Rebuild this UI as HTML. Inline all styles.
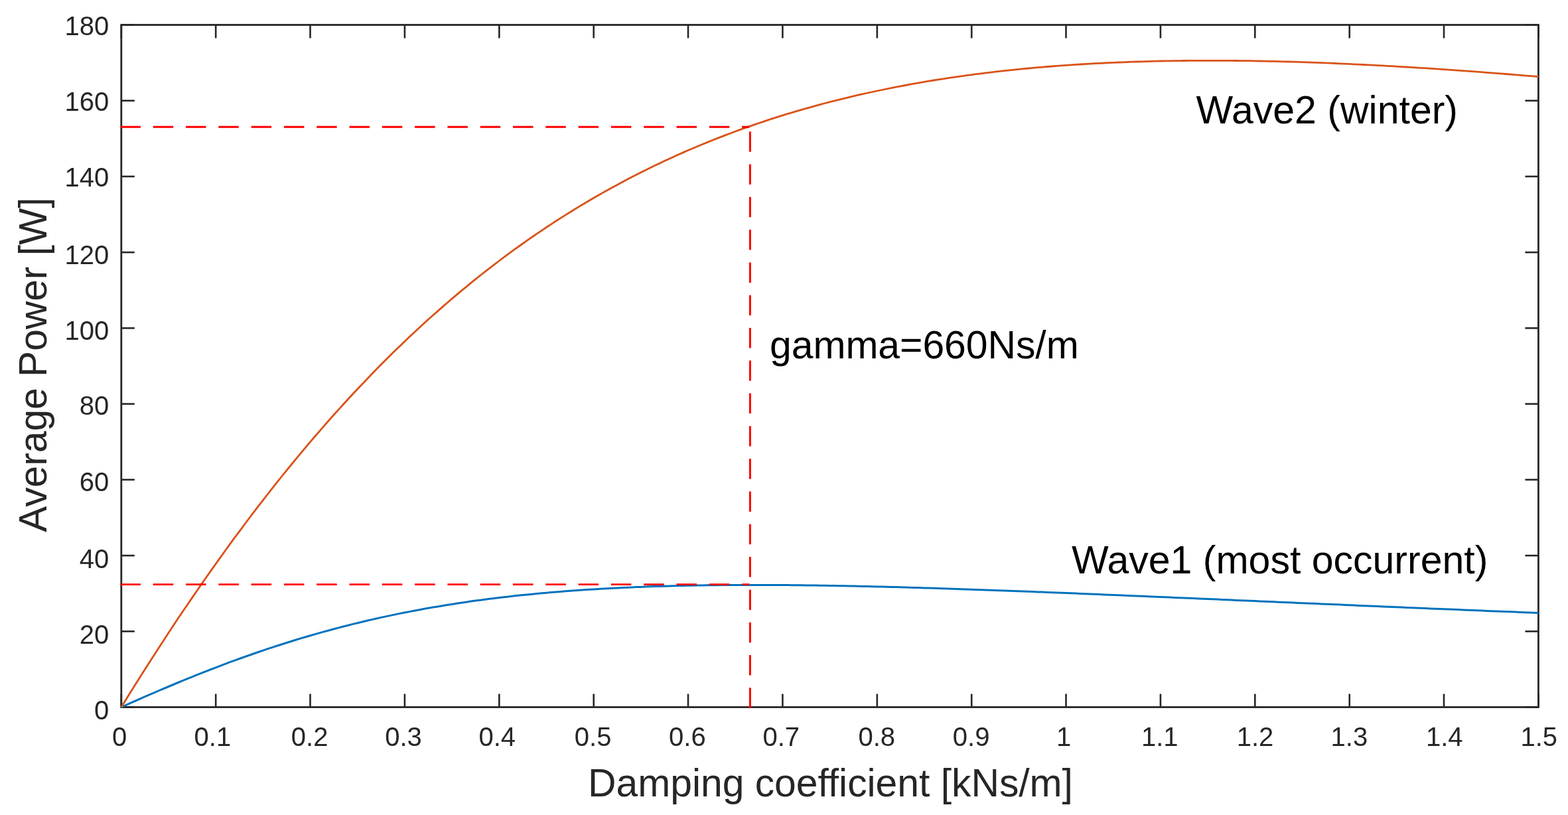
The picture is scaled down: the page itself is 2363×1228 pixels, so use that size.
<!DOCTYPE html><html><head><meta charset="utf-8"><style>html,body{margin:0;padding:0;background:#fff;}svg{display:block;}text{font-family:"Liberation Sans",Arial,sans-serif;}</style></head><body>
<svg width="2363" height="1228" viewBox="0 0 2363 1228">
<rect width="2363" height="1228" fill="#fff"/>
<g stroke="#262626" stroke-width="2.6" fill="none">
<line x1="182.8" y1="1065.5" x2="182.8" y2="1045.5"/>
<line x1="182.8" y1="37.5" x2="182.8" y2="57.5"/>
<line x1="325.2" y1="1065.5" x2="325.2" y2="1045.5"/>
<line x1="325.2" y1="37.5" x2="325.2" y2="57.5"/>
<line x1="467.5" y1="1065.5" x2="467.5" y2="1045.5"/>
<line x1="467.5" y1="37.5" x2="467.5" y2="57.5"/>
<line x1="609.9" y1="1065.5" x2="609.9" y2="1045.5"/>
<line x1="609.9" y1="37.5" x2="609.9" y2="57.5"/>
<line x1="752.3" y1="1065.5" x2="752.3" y2="1045.5"/>
<line x1="752.3" y1="37.5" x2="752.3" y2="57.5"/>
<line x1="894.7" y1="1065.5" x2="894.7" y2="1045.5"/>
<line x1="894.7" y1="37.5" x2="894.7" y2="57.5"/>
<line x1="1037.0" y1="1065.5" x2="1037.0" y2="1045.5"/>
<line x1="1037.0" y1="37.5" x2="1037.0" y2="57.5"/>
<line x1="1179.4" y1="1065.5" x2="1179.4" y2="1045.5"/>
<line x1="1179.4" y1="37.5" x2="1179.4" y2="57.5"/>
<line x1="1321.8" y1="1065.5" x2="1321.8" y2="1045.5"/>
<line x1="1321.8" y1="37.5" x2="1321.8" y2="57.5"/>
<line x1="1464.2" y1="1065.5" x2="1464.2" y2="1045.5"/>
<line x1="1464.2" y1="37.5" x2="1464.2" y2="57.5"/>
<line x1="1606.5" y1="1065.5" x2="1606.5" y2="1045.5"/>
<line x1="1606.5" y1="37.5" x2="1606.5" y2="57.5"/>
<line x1="1748.9" y1="1065.5" x2="1748.9" y2="1045.5"/>
<line x1="1748.9" y1="37.5" x2="1748.9" y2="57.5"/>
<line x1="1891.3" y1="1065.5" x2="1891.3" y2="1045.5"/>
<line x1="1891.3" y1="37.5" x2="1891.3" y2="57.5"/>
<line x1="2033.7" y1="1065.5" x2="2033.7" y2="1045.5"/>
<line x1="2033.7" y1="37.5" x2="2033.7" y2="57.5"/>
<line x1="2176.0" y1="1065.5" x2="2176.0" y2="1045.5"/>
<line x1="2176.0" y1="37.5" x2="2176.0" y2="57.5"/>
<line x1="2318.4" y1="1065.5" x2="2318.4" y2="1045.5"/>
<line x1="2318.4" y1="37.5" x2="2318.4" y2="57.5"/>
<line x1="182.8" y1="1065.5" x2="202.8" y2="1065.5"/>
<line x1="2318.4" y1="1065.5" x2="2298.4" y2="1065.5"/>
<line x1="182.8" y1="951.3" x2="202.8" y2="951.3"/>
<line x1="2318.4" y1="951.3" x2="2298.4" y2="951.3"/>
<line x1="182.8" y1="837.1" x2="202.8" y2="837.1"/>
<line x1="2318.4" y1="837.1" x2="2298.4" y2="837.1"/>
<line x1="182.8" y1="722.8" x2="202.8" y2="722.8"/>
<line x1="2318.4" y1="722.8" x2="2298.4" y2="722.8"/>
<line x1="182.8" y1="608.6" x2="202.8" y2="608.6"/>
<line x1="2318.4" y1="608.6" x2="2298.4" y2="608.6"/>
<line x1="182.8" y1="494.4" x2="202.8" y2="494.4"/>
<line x1="2318.4" y1="494.4" x2="2298.4" y2="494.4"/>
<line x1="182.8" y1="380.2" x2="202.8" y2="380.2"/>
<line x1="2318.4" y1="380.2" x2="2298.4" y2="380.2"/>
<line x1="182.8" y1="265.9" x2="202.8" y2="265.9"/>
<line x1="2318.4" y1="265.9" x2="2298.4" y2="265.9"/>
<line x1="182.8" y1="151.7" x2="202.8" y2="151.7"/>
<line x1="2318.4" y1="151.7" x2="2298.4" y2="151.7"/>
<line x1="182.8" y1="37.5" x2="202.8" y2="37.5"/>
<line x1="2318.4" y1="37.5" x2="2298.4" y2="37.5"/>
<rect x="182.8" y="37.5" width="2135.6" height="1028.0" stroke-width="2.8"/>
</g>
<polyline fill="none" stroke="#0072BD" stroke-width="3" stroke-linejoin="round" points="182.8,1065.5 189.9,1062.3 197.0,1059.1 204.2,1056.0 211.3,1052.9 218.4,1049.7 225.5,1046.6 232.6,1043.6 239.7,1040.5 246.9,1037.5 254.0,1034.5 261.1,1031.5 268.2,1028.5 275.3,1025.6 282.5,1022.7 289.6,1019.8 296.7,1016.9 303.8,1014.1 310.9,1011.3 318.1,1008.5 325.2,1005.8 332.3,1003.1 339.4,1000.4 346.5,997.7 353.6,995.1 360.8,992.5 367.9,990.0 375.0,987.5 382.1,985.0 389.2,982.5 396.4,980.1 403.5,977.7 410.6,975.3 417.7,973.0 424.8,970.7 432.0,968.5 439.1,966.2 446.2,964.0 453.3,961.9 460.4,959.8 467.5,957.7 474.7,955.6 481.8,953.6 488.9,951.6 496.0,949.7 503.1,947.8 510.3,945.9 517.4,944.0 524.5,942.2 531.6,940.4 538.7,938.7 545.9,937.0 553.0,935.3 560.1,933.6 567.2,932.0 574.3,930.4 581.4,928.9 588.6,927.4 595.7,925.9 602.8,924.4 609.9,923.0 617.0,921.6 624.2,920.2 631.3,918.9 638.4,917.6 645.5,916.3 652.6,915.1 659.8,913.9 666.9,912.7 674.0,911.5 681.1,910.4 688.2,909.3 695.3,908.2 702.5,907.2 709.6,906.1 716.7,905.1 723.8,904.2 730.9,903.2 738.1,902.3 745.2,901.4 752.3,900.6 759.4,899.7 766.5,898.9 773.6,898.1 780.8,897.3 787.9,896.6 795.0,895.9 802.1,895.2 809.2,894.5 816.4,893.8 823.5,893.2 830.6,892.6 837.7,892.0 844.8,891.4 852.0,890.8 859.1,890.3 866.2,889.8 873.3,889.3 880.4,888.8 887.5,888.3 894.7,887.9 901.8,887.5 908.9,887.1 916.0,886.7 923.1,886.3 930.3,885.9 937.4,885.6 944.5,885.3 951.6,884.9 958.7,884.6 965.9,884.4 973.0,884.1 980.1,883.8 987.2,883.6 994.3,883.4 1001.4,883.2 1008.6,883.0 1015.7,882.8 1022.8,882.6 1029.9,882.5 1037.0,882.3 1044.2,882.2 1051.3,882.0 1058.4,881.9 1065.5,881.8 1072.6,881.7 1079.8,881.7 1086.9,881.6 1094.0,881.5 1101.1,881.5 1108.2,881.4 1115.3,881.4 1122.5,881.4 1129.6,881.4 1136.7,881.4 1143.8,881.4 1150.9,881.4 1158.1,881.4 1165.2,881.5 1172.3,881.5 1179.4,881.5 1186.5,881.6 1193.7,881.7 1200.8,881.7 1207.9,881.8 1215.0,881.9 1222.1,882.0 1229.2,882.1 1236.4,882.2 1243.5,882.3 1250.6,882.4 1257.7,882.5 1264.8,882.7 1272.0,882.8 1279.1,882.9 1286.2,883.1 1293.3,883.2 1300.4,883.4 1307.5,883.6 1314.7,883.7 1321.8,883.9 1328.9,884.1 1336.0,884.3 1343.1,884.4 1350.3,884.6 1357.4,884.8 1364.5,885.0 1371.6,885.2 1378.7,885.4 1385.9,885.6 1393.0,885.9 1400.1,886.1 1407.2,886.3 1414.3,886.5 1421.4,886.7 1428.6,887.0 1435.7,887.2 1442.8,887.4 1449.9,887.7 1457.0,887.9 1464.2,888.2 1471.3,888.4 1478.4,888.7 1485.5,888.9 1492.6,889.2 1499.8,889.4 1506.9,889.7 1514.0,890.0 1521.1,890.2 1528.2,890.5 1535.3,890.8 1542.5,891.0 1549.6,891.3 1556.7,891.6 1563.8,891.9 1570.9,892.1 1578.1,892.4 1585.2,892.7 1592.3,893.0 1599.4,893.3 1606.5,893.5 1613.7,893.8 1620.8,894.1 1627.9,894.4 1635.0,894.7 1642.1,895.0 1649.2,895.3 1656.4,895.6 1663.5,895.9 1670.6,896.2 1677.7,896.5 1684.8,896.8 1692.0,897.1 1699.1,897.4 1706.2,897.7 1713.3,898.0 1720.4,898.3 1727.6,898.6 1734.7,898.9 1741.8,899.2 1748.9,899.5 1756.0,899.8 1763.1,900.1 1770.3,900.4 1777.4,900.7 1784.5,901.0 1791.6,901.3 1798.7,901.6 1805.9,901.9 1813.0,902.2 1820.1,902.5 1827.2,902.8 1834.3,903.1 1841.4,903.5 1848.6,903.8 1855.7,904.1 1862.8,904.4 1869.9,904.7 1877.0,905.0 1884.2,905.3 1891.3,905.6 1898.4,905.9 1905.5,906.2 1912.6,906.5 1919.8,906.8 1926.9,907.2 1934.0,907.5 1941.1,907.8 1948.2,908.1 1955.3,908.4 1962.5,908.7 1969.6,909.0 1976.7,909.3 1983.8,909.6 1990.9,909.9 1998.1,910.2 2005.2,910.5 2012.3,910.8 2019.4,911.1 2026.5,911.4 2033.7,911.8 2040.8,912.1 2047.9,912.4 2055.0,912.7 2062.1,913.0 2069.2,913.3 2076.4,913.6 2083.5,913.9 2090.6,914.2 2097.7,914.5 2104.8,914.8 2112.0,915.1 2119.1,915.4 2126.2,915.7 2133.3,916.0 2140.4,916.3 2147.6,916.6 2154.7,916.9 2161.8,917.2 2168.9,917.5 2176.0,917.7 2183.1,918.0 2190.3,918.3 2197.4,918.6 2204.5,918.9 2211.6,919.2 2218.7,919.5 2225.9,919.8 2233.0,920.1 2240.1,920.4 2247.2,920.7 2254.3,921.0 2261.5,921.2 2268.6,921.5 2275.7,921.8 2282.8,922.1 2289.9,922.4 2297.0,922.7 2304.2,923.0 2311.3,923.2 2318.4,923.5"/>
<polyline fill="none" stroke="#D95319" stroke-width="2.8" stroke-linejoin="round" points="182.8,1065.5 189.9,1054.0 197.0,1042.5 204.2,1031.1 211.3,1019.8 218.4,1008.6 225.5,997.4 232.6,986.4 239.7,975.4 246.9,964.4 254.0,953.6 261.1,942.8 268.2,932.1 275.3,921.5 282.5,911.0 289.6,900.6 296.7,890.2 303.8,879.9 310.9,869.7 318.1,859.6 325.2,849.5 332.3,839.6 339.4,829.7 346.5,819.9 353.6,810.2 360.8,800.6 367.9,791.0 375.0,781.5 382.1,772.1 389.2,762.8 396.4,753.6 403.5,744.5 410.6,735.4 417.7,726.4 424.8,717.5 432.0,708.7 439.1,700.0 446.2,691.3 453.3,682.8 460.4,674.3 467.5,665.9 474.7,657.5 481.8,649.3 488.9,641.1 496.0,633.0 503.1,625.0 510.3,617.1 517.4,609.3 524.5,601.5 531.6,593.8 538.7,586.2 545.9,578.7 553.0,571.2 560.1,563.8 567.2,556.6 574.3,549.3 581.4,542.2 588.6,535.1 595.7,528.1 602.8,521.2 609.9,514.4 617.0,507.6 624.2,501.0 631.3,494.3 638.4,487.8 645.5,481.3 652.6,475.0 659.8,468.6 666.9,462.4 674.0,456.2 681.1,450.1 688.2,444.1 695.3,438.1 702.5,432.3 709.6,426.4 716.7,420.7 723.8,415.0 730.9,409.4 738.1,403.9 745.2,398.4 752.3,393.0 759.4,387.6 766.5,382.4 773.6,377.2 780.8,372.0 787.9,367.0 795.0,361.9 802.1,357.0 809.2,352.1 816.4,347.3 823.5,342.5 830.6,337.8 837.7,333.2 844.8,328.6 852.0,324.1 859.1,319.7 866.2,315.3 873.3,310.9 880.4,306.7 887.5,302.5 894.7,298.3 901.8,294.2 908.9,290.1 916.0,286.2 923.1,282.2 930.3,278.4 937.4,274.5 944.5,270.8 951.6,267.0 958.7,263.4 965.9,259.8 973.0,256.2 980.1,252.7 987.2,249.3 994.3,245.9 1001.4,242.5 1008.6,239.2 1015.7,236.0 1022.8,232.8 1029.9,229.6 1037.0,226.5 1044.2,223.5 1051.3,220.5 1058.4,217.5 1065.5,214.6 1072.6,211.7 1079.8,208.9 1086.9,206.1 1094.0,203.4 1101.1,200.7 1108.2,198.0 1115.3,195.4 1122.5,192.9 1129.6,190.4 1136.7,187.9 1143.8,185.5 1150.9,183.1 1158.1,180.7 1165.2,178.4 1172.3,176.1 1179.4,173.9 1186.5,171.7 1193.7,169.6 1200.8,167.4 1207.9,165.4 1215.0,163.3 1222.1,161.3 1229.2,159.3 1236.4,157.4 1243.5,155.5 1250.6,153.7 1257.7,151.8 1264.8,150.1 1272.0,148.3 1279.1,146.6 1286.2,144.9 1293.3,143.2 1300.4,141.6 1307.5,140.0 1314.7,138.5 1321.8,137.0 1328.9,135.5 1336.0,134.0 1343.1,132.6 1350.3,131.2 1357.4,129.8 1364.5,128.5 1371.6,127.2 1378.7,125.9 1385.9,124.6 1393.0,123.4 1400.1,122.2 1407.2,121.0 1414.3,119.9 1421.4,118.8 1428.6,117.7 1435.7,116.6 1442.8,115.6 1449.9,114.6 1457.0,113.6 1464.2,112.6 1471.3,111.7 1478.4,110.8 1485.5,109.9 1492.6,109.1 1499.8,108.2 1506.9,107.4 1514.0,106.6 1521.1,105.9 1528.2,105.1 1535.3,104.4 1542.5,103.7 1549.6,103.0 1556.7,102.4 1563.8,101.7 1570.9,101.1 1578.1,100.5 1585.2,100.0 1592.3,99.4 1599.4,98.9 1606.5,98.4 1613.7,97.9 1620.8,97.4 1627.9,97.0 1635.0,96.5 1642.1,96.1 1649.2,95.7 1656.4,95.4 1663.5,95.0 1670.6,94.7 1677.7,94.3 1684.8,94.0 1692.0,93.8 1699.1,93.5 1706.2,93.2 1713.3,93.0 1720.4,92.8 1727.6,92.6 1734.7,92.4 1741.8,92.2 1748.9,92.0 1756.0,91.9 1763.1,91.8 1770.3,91.7 1777.4,91.6 1784.5,91.5 1791.6,91.4 1798.7,91.4 1805.9,91.3 1813.0,91.3 1820.1,91.3 1827.2,91.3 1834.3,91.3 1841.4,91.3 1848.6,91.4 1855.7,91.4 1862.8,91.5 1869.9,91.6 1877.0,91.6 1884.2,91.7 1891.3,91.9 1898.4,92.0 1905.5,92.1 1912.6,92.3 1919.8,92.4 1926.9,92.6 1934.0,92.8 1941.1,93.0 1948.2,93.2 1955.3,93.4 1962.5,93.6 1969.6,93.9 1976.7,94.1 1983.8,94.4 1990.9,94.6 1998.1,94.9 2005.2,95.2 2012.3,95.5 2019.4,95.8 2026.5,96.1 2033.7,96.4 2040.8,96.8 2047.9,97.1 2055.0,97.5 2062.1,97.8 2069.2,98.2 2076.4,98.6 2083.5,98.9 2090.6,99.3 2097.7,99.7 2104.8,100.1 2112.0,100.6 2119.1,101.0 2126.2,101.4 2133.3,101.8 2140.4,102.3 2147.6,102.7 2154.7,103.2 2161.8,103.7 2168.9,104.1 2176.0,104.6 2183.1,105.1 2190.3,105.6 2197.4,106.1 2204.5,106.6 2211.6,107.1 2218.7,107.7 2225.9,108.2 2233.0,108.7 2240.1,109.3 2247.2,109.8 2254.3,110.3 2261.5,110.9 2268.6,111.5 2275.7,112.0 2282.8,112.6 2289.9,113.2 2297.0,113.8 2304.2,114.4 2311.3,114.9 2318.4,115.5"/>
<line x1="181.4" y1="191.2" x2="1129.4" y2="191.2" stroke="#FF0000" stroke-width="2.9" stroke-dasharray="30.5 18.8"/>
<line x1="181.4" y1="880.6" x2="1129.4" y2="880.6" stroke="#FF0000" stroke-width="2.9" stroke-dasharray="30.5 18.8"/>
<line x1="1130.4" y1="1066.8" x2="1130.4" y2="191.2" stroke="#FF0000" stroke-width="2.9" stroke-dasharray="30.5 18.8"/>
<g fill="#262626" font-size="40">
<text x="164.2" y="53.1" text-anchor="end">180</text>
<text x="164.2" y="167.0" text-anchor="end">160</text>
<text x="164.2" y="281.2" text-anchor="end">140</text>
<text x="164.2" y="397.8" text-anchor="end">120</text>
<text x="164.2" y="511.9" text-anchor="end">100</text>
<text x="164.2" y="625.0" text-anchor="end">80</text>
<text x="164.2" y="740.3" text-anchor="end">60</text>
<text x="164.2" y="856.1" text-anchor="end">40</text>
<text x="164.2" y="970.3" text-anchor="end">20</text>
<text x="164.2" y="1084.3" text-anchor="end">0</text>
<text x="180.1" y="1123.7" text-anchor="middle">0</text>
<text x="320.4" y="1123.7" text-anchor="middle">0.1</text>
<text x="466.6" y="1123.7" text-anchor="middle">0.2</text>
<text x="608.0" y="1123.7" text-anchor="middle">0.3</text>
<text x="749.2" y="1123.7" text-anchor="middle">0.4</text>
<text x="893.6" y="1123.7" text-anchor="middle">0.5</text>
<text x="1035.9" y="1123.7" text-anchor="middle">0.6</text>
<text x="1177.2" y="1123.7" text-anchor="middle">0.7</text>
<text x="1321.3" y="1123.7" text-anchor="middle">0.8</text>
<text x="1463.6" y="1123.7" text-anchor="middle">0.9</text>
<text x="1603.0" y="1123.7" text-anchor="middle">1</text>
<text x="1747.7" y="1123.7" text-anchor="middle">1.1</text>
<text x="1891.5" y="1123.7" text-anchor="middle">1.2</text>
<text x="2033.4" y="1123.7" text-anchor="middle">1.3</text>
<text x="2176.8" y="1123.7" text-anchor="middle">1.4</text>
<text x="2319.2" y="1123.7" text-anchor="middle">1.5</text>
</g>
<text x="1251.5" y="1199.9" font-size="58.8" fill="#262626" text-anchor="middle">Damping coefficient [kNs/m]</text>
<text transform="translate(70.4 549.6) rotate(-90)" font-size="58.7" fill="#262626" text-anchor="middle">Average Power [W]</text>
<text x="1160" y="540.3" font-size="58.8" fill="#000">gamma=660Ns/m</text>
<text x="1802.5" y="186.4" font-size="59" fill="#000">Wave2 (winter)</text>
<text x="1615" y="863.7" font-size="59" fill="#000">Wave1 (most occurrent)</text>
</svg></body></html>
